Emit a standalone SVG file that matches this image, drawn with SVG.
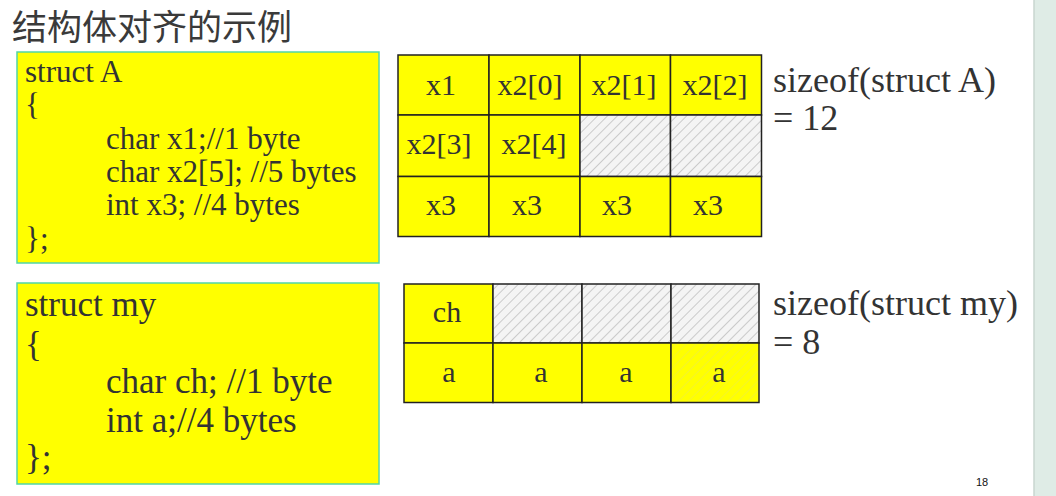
<svg xmlns="http://www.w3.org/2000/svg" width="1056" height="496" viewBox="0 0 1056 496">
<defs>
<pattern id="hatch" patternUnits="userSpaceOnUse" width="7" height="7" patternTransform="rotate(45)">
<rect width="7" height="7" fill="#f4f4f4"/>
<line x1="0" y1="0" x2="0" y2="7" stroke="#b8b8b8" stroke-width="1.4"/>
</pattern>
<pattern id="hatchY" patternUnits="userSpaceOnUse" width="7" height="7" patternTransform="rotate(45)">
<rect width="7" height="7" fill="#ffff00"/>
<line x1="0" y1="0" x2="0" y2="7" stroke="#eeee40" stroke-width="1.4"/>
</pattern>
</defs>
<style>
.t{font-family:"Liberation Serif","Times New Roman",serif;fill:#333333}
.code{fill:#ffff00;stroke:#52d6a6;stroke-width:1.5}
.c{fill:#ffff00;stroke:#222;stroke-width:1.5}
.h{fill:url(#hatch);stroke:#222;stroke-width:1.5}
.hy{fill:url(#hatchY);stroke:#222;stroke-width:1.5}
.g{font-size:30px;text-anchor:middle}
.a{font-size:31px}
.m{font-size:35px}
.s{font-size:36px}
</style>
<rect x="0" y="0" width="1056" height="496" fill="#ffffff"/>
<rect x="1034" y="0" width="22" height="496" fill="#dfece6"/>
<line x1="1034" y1="0" x2="1034" y2="496" stroke="#c9d6cf" stroke-width="1.5"/>
<text x="12" y="40" font-family="'Noto Sans CJK SC',sans-serif" font-size="35" fill="#3a3a3a">结构体对齐的示例</text>

<g id="codeA">
<rect class="code" x="17" y="52" width="362" height="211"/>
<text class="t a" x="25" y="82">struct A</text>
<text class="t a" x="25" y="115">{</text>
<text class="t a" x="106" y="149">char x1;//1 byte</text>
<text class="t a" x="106" y="182">char x2[5]; //5 bytes</text>
<text class="t a" x="106" y="215">int x3; //4 bytes</text>
<text class="t a" x="25" y="249">};</text>
</g>

<g id="gridA">
<rect class="c" x="398" y="55" width="91" height="60"/>
<rect class="c" x="489" y="55" width="91" height="60"/>
<rect class="c" x="580" y="55" width="90.5" height="60"/>
<rect class="c" x="670.5" y="55" width="91" height="60"/>
<rect class="c" x="398" y="115" width="91" height="61.5"/>
<rect class="c" x="489" y="115" width="91" height="61.5"/>
<rect class="h" x="580" y="115" width="90.5" height="61.5"/>
<rect class="h" x="670.5" y="115" width="91" height="61.5"/>
<rect class="c" x="398" y="176.5" width="91" height="60"/>
<rect class="c" x="489" y="176.5" width="91" height="60"/>
<rect class="c" x="580" y="176.5" width="90.5" height="60"/>
<rect class="c" x="670.5" y="176.5" width="91" height="60"/>
<text class="t g" x="441" y="95">x1</text>
<text class="t g" x="530" y="95">x2[0]</text>
<text class="t g" x="624" y="95">x2[1]</text>
<text class="t g" x="715" y="95">x2[2]</text>
<text class="t g" x="439" y="154">x2[3]</text>
<text class="t g" x="534" y="154">x2[4]</text>
<text class="t g" x="441" y="215">x3</text>
<text class="t g" x="527" y="215">x3</text>
<text class="t g" x="617" y="215">x3</text>
<text class="t g" x="708" y="215">x3</text>
</g>

<g id="sizeA">
<text class="t s" x="773" y="92">sizeof(struct A)</text>
<text class="t s" x="773" y="130">= 12</text>
</g>

<g id="codeMy">
<rect class="code" x="17" y="283" width="362" height="201"/>
<text class="t m" x="25" y="316">struct my</text>
<text class="t m" x="25" y="356">{</text>
<text class="t m" x="106" y="393">char ch; //1 byte</text>
<text class="t m" x="106" y="432">int a;//4 bytes</text>
<text class="t m" x="25" y="469">};</text>
</g>

<g id="gridMy">
<rect class="c" x="404" y="284" width="89" height="59"/>
<rect class="h" x="493" y="284" width="89" height="59"/>
<rect class="h" x="582" y="284" width="89" height="59"/>
<rect class="h" x="671" y="284" width="88" height="59"/>
<rect class="c" x="404" y="343" width="89" height="59.5"/>
<rect class="c" x="493" y="343" width="89" height="59.5"/>
<rect class="c" x="582" y="343" width="89" height="59.5"/>
<rect class="hy" x="671" y="343" width="88" height="59.5"/>
<text class="t g" x="447" y="322">ch</text>
<text class="t g" x="449" y="382">a</text>
<text class="t g" x="541" y="382">a</text>
<text class="t g" x="626" y="382">a</text>
<text class="t g" x="719" y="382">a</text>
</g>

<g id="sizeMy">
<text class="t s" x="773" y="315">sizeof(struct my)</text>
<text class="t s" x="773" y="354">= 8</text>
</g>

<text x="976" y="486" font-family="'Liberation Sans',Arial,sans-serif" font-size="11" fill="#111">18</text>
</svg>
